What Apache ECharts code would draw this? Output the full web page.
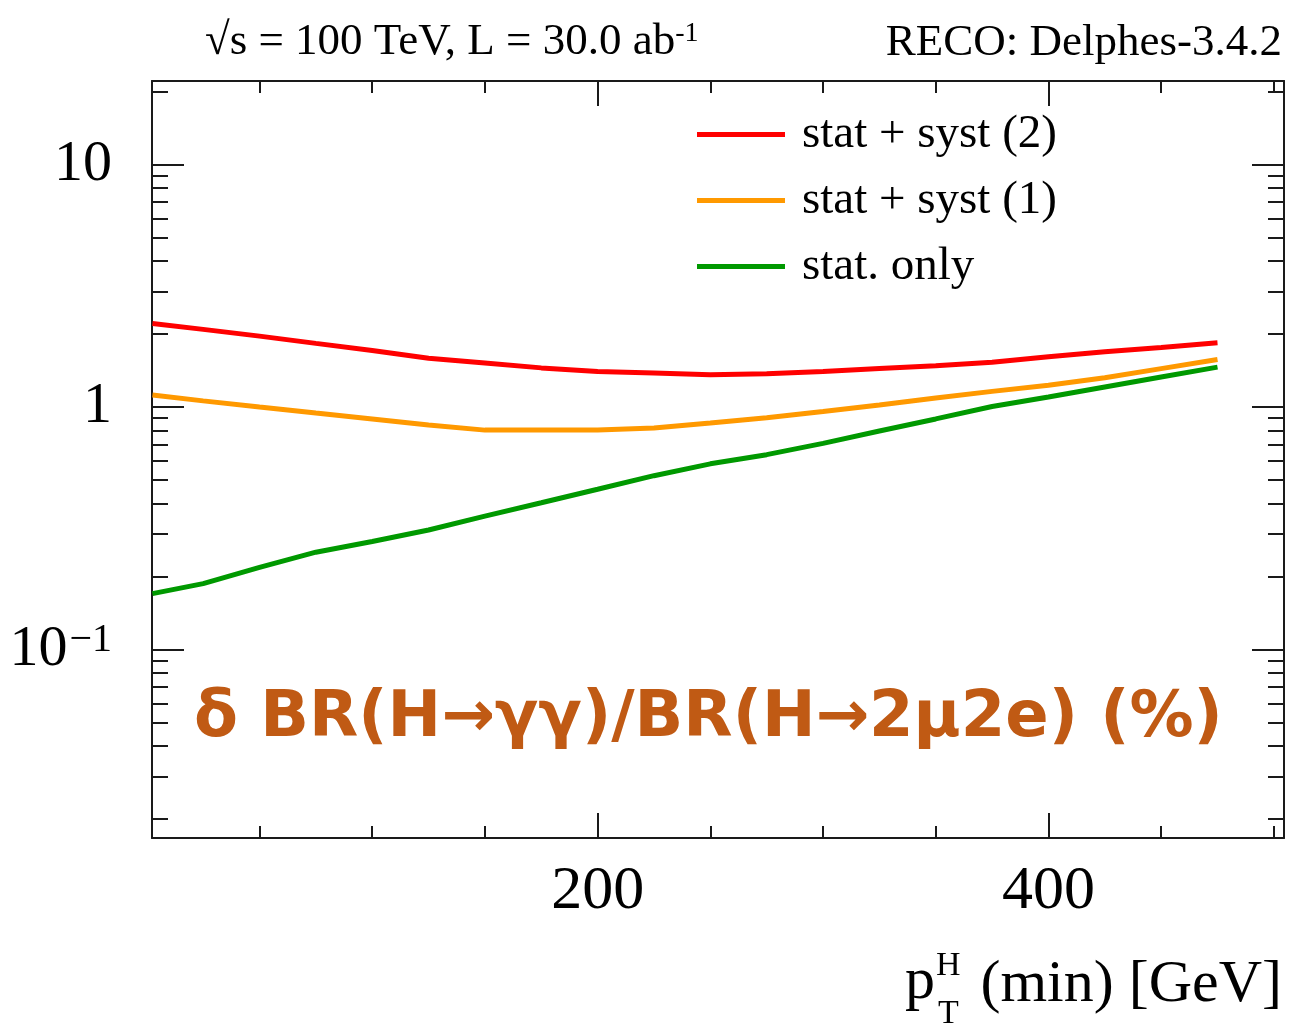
<!DOCTYPE html>
<html><head><meta charset="utf-8">
<script src="https://cdn.jsdelivr.net/npm/echarts@6/dist/echarts.min.js"></script>
<style>html,body{margin:0;padding:0;background:#fff}#c{width:1291px;height:1027px}</style>
</head><body><div id="c"></div>
<script>
// ---- data ----
const ptMin = [2.5, 25, 50, 75, 100, 125, 150, 175, 200, 225, 250, 275, 300, 325, 350, 375, 400, 425, 450, 475];
const statSyst2 = [2.21, 2.09, 1.96, 1.83, 1.71, 1.59, 1.52, 1.45, 1.40, 1.38, 1.36, 1.37, 1.40, 1.44, 1.48, 1.53, 1.61, 1.69, 1.76, 1.84];
const statSyst1 = [1.12, 1.06, 1.00, 0.944, 0.892, 0.843, 0.803, 0.803, 0.803, 0.819, 0.859, 0.904, 0.958, 1.02, 1.09, 1.16, 1.23, 1.32, 1.44, 1.57];
const statOnly = [0.170, 0.187, 0.218, 0.252, 0.279, 0.311, 0.355, 0.403, 0.458, 0.521, 0.583, 0.636, 0.708, 0.796, 0.893, 1.005, 1.10, 1.21, 1.33, 1.46];
const seriesNames = ['stat + syst (2)', 'stat + syst (1)', 'stat. only'];
const seriesColors = ['#ff0000', '#ff9900', '#009900'];

const xMin = 2.3, xMax = 504.5;
const yMin = 0.0167, yMax = 22.1;
const xMajorTicks = [200, 400];
const xMinorTicks = [50, 100, 150, 250, 300, 350, 450, 500];
const yMajorTicks = [0.1, 1, 10];
const yMinorTicks = [0.02, 0.03, 0.04, 0.05, 0.06, 0.07, 0.08, 0.09,
  0.2, 0.3, 0.4, 0.5, 0.6, 0.7, 0.8, 0.9, 2, 3, 4, 5, 6, 7, 8, 9, 20];

const SERIF = '"Liberation Serif", "Times New Roman", serif';
const frame = { color: '#1a1a1a', width: 2 };

function xAxisDef(pos, ticks, len, showLine, labels) {
  return {
    type: 'value', position: pos, min: xMin, max: xMax,
    axisLine: { show: showLine, onZero: false, lineStyle: frame },
    axisTick: { show: true, inside: true, length: len, customValues: ticks, lineStyle: frame },
    axisLabel: labels ? {
      show: true, customValues: xMajorTicks, margin: 23,
      fontFamily: SERIF, fontSize: 62, color: '#000'
    } : { show: false },
    splitLine: { show: false }, minorTick: { show: false }
  };
}
function yAxisDef(pos, ticks, len, showLine, labels) {
  return {
    type: 'log', logBase: 10, position: pos, min: yMin, max: yMax,
    axisLine: { show: showLine, onZero: false, lineStyle: frame },
    axisTick: { show: true, inside: true, length: len, customValues: ticks, lineStyle: frame },
    axisLabel: labels ? {
      show: true, customValues: yMajorTicks, margin: 40,
      fontFamily: SERIF, fontSize: 58, color: '#000',
      formatter: function (v) {
        const e = Math.round(Math.log10(v));
        if (e === 0) return '1';
        if (e === 1) return '10';
        return '10{sup|\u2212' + (-e) + '}';
      },
      rich: { sup: { fontFamily: SERIF, fontSize: 40, verticalAlign: 'top', lineHeight: 30, padding: [0, 0, 0, 2] } }
    } : { show: false },
    splitLine: { show: false }, minorTick: { show: false }
  };
}

const dataSets = [statSyst2, statSyst1, statOnly];
const series = dataSets.map((arr, i) => ({
  name: seriesNames[i], type: 'line', xAxisIndex: 0, yAxisIndex: 0,
  data: ptMin.map((x, k) => [x, arr[k]]),
  showSymbol: false, symbol: 'none', smooth: false,
  lineStyle: { color: seriesColors[i], width: 5 },
  itemStyle: { color: seriesColors[i] },
  z: 3
}));

const chart = echarts.init(document.getElementById('c'), null, { renderer: 'canvas' });
chart.setOption({
  animation: false,
  backgroundColor: '#ffffff',
  grid: { left: 152, top: 81, right: 7, bottom: 189, containLabel: false, outerBoundsMode: 'none' },
  xAxis: [
    xAxisDef('bottom', xMajorTicks, 25, true, true),
    xAxisDef('bottom', xMinorTicks, 12, false, false),
    xAxisDef('top', xMajorTicks, 25, true, false),
    xAxisDef('top', xMinorTicks, 12, false, false)
  ],
  yAxis: [
    yAxisDef('left', yMajorTicks, 32, true, true),
    yAxisDef('left', yMinorTicks, 16, false, false),
    yAxisDef('right', yMajorTicks, 32, true, false),
    yAxisDef('right', yMinorTicks, 16, false, false)
  ],
  legend: {
    orient: 'vertical', left: 692, top: 106,
    icon: 'rect', itemWidth: 88, itemHeight: 5, itemGap: 19,
    textStyle: { fontFamily: SERIF, fontSize: 47, lineHeight: 47, color: '#000', padding: [0, 0, 0, 12] },
    data: seriesNames
  },
  series: series,
  graphic: [
    { type: 'text', left: 205, top: 20, style: {
        text: '\u221As = 100 TeV, L = 30.0 ab{sup|-1}', font: '45px ' + SERIF, fill: '#000',
        rich: { sup: { font: '28px ' + SERIF, verticalAlign: 'top', lineHeight: 22 } } } },
    { type: 'text', right: 9, top: 21, style: {
        text: 'RECO: Delphes-3.4.2', font: '45px ' + SERIF, fill: '#000' } },
    { type: 'text', left: 194, top: 687, style: {
        text: '\u03B4 BR(H\u2192\u03B3\u03B3)/BR(H\u21922\u03BC2e) (%)',
        font: 'bold 64px "DejaVu Sans", sans-serif', fill: '#c05a14' } },
    { type: 'text', left: 905, top: 952, style: { text: 'p', font: '60px ' + SERIF, fill: '#000' } },
    { type: 'text', left: 936, top: 949, style: { text: 'H', font: '34px ' + SERIF, fill: '#000' } },
    { type: 'text', left: 938, top: 997, style: { text: 'T', font: '34px ' + SERIF, fill: '#000' } },
    { type: 'text', right: 9, top: 955, style: { text: '(min) [GeV]', font: '60px ' + SERIF, fill: '#000' } }
  ]
});
</script>
</body></html>
